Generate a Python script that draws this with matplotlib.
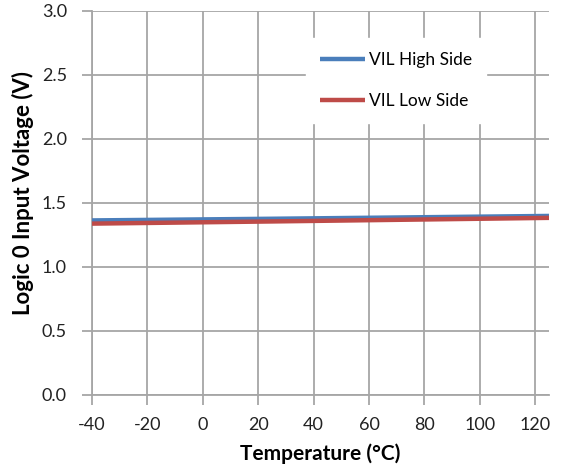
import matplotlib.pyplot as plt

# Logic-0 input threshold vs. temperature
temperature_c = [-40, 25, 125]
vil_high_side = [1.360, 1.373, 1.395]
vil_low_side = [1.335, 1.352, 1.380]

x_ticks = [-40, -20, 0, 20, 40, 60, 80, 100, 120]
y_ticks = [0.0, 0.5, 1.0, 1.5, 2.0, 2.5, 3.0]

plt.rcParams["font.family"] = ["Lato", "DejaVu Sans"]
plt.rcParams["axes.unicode_minus"] = False

fig = plt.figure(figsize=(5.62, 4.70), dpi=100)
left, right, top, bottom = 92, 549, 10.5, 394.5
ax = fig.add_axes([left / 562, 1 - bottom / 470, (right - left) / 562, (bottom - top) / 470])

grid_color = "#a6a6a6"
ax.plot(temperature_c, vil_high_side, color="#4a7ebb", lw=3.2,
        label="VIL High Side", solid_capstyle="butt", zorder=3)
ax.plot(temperature_c, vil_low_side, color="#be4b48", lw=3.2,
        label="VIL Low Side", solid_capstyle="butt", zorder=4)

ax.set_xlim(-40, 125)
ax.set_ylim(0, 3.0)
ax.set_xticks(x_ticks)
ax.set_yticks(y_ticks)
ax.set_yticklabels([f"{v:.1f}" for v in y_ticks])
ax.grid(True, color=grid_color, lw=1.3)
ax.set_axisbelow(True)

for side in ("top", "right"):
    ax.spines[side].set_visible(False)
for side in ("left", "bottom"):
    ax.spines[side].set_color(grid_color)
    ax.spines[side].set_linewidth(1.3)

ax.tick_params(axis="both", direction="out", length=7, width=1.3,
               color=grid_color, labelsize=13, labelcolor="#222222")
ax.tick_params(axis="x", pad=9)
ax.tick_params(axis="y", pad=11)

ax.set_xlabel("Temperature (°C)", fontsize=15, fontweight="bold", labelpad=8)
ax.set_ylabel("Logic 0 Input Voltage (V)", fontsize=16, fontweight="bold")
ax.yaxis.set_label_coords(-0.128, 0.525)

leg = ax.legend(loc="upper left", bbox_to_anchor=(0.45, 0.95), frameon=True,
                fontsize=12.5, handlelength=2.6, handletextpad=0.2,
                labelspacing=1.45, borderpad=0.8)
leg.get_frame().set_edgecolor("white")
leg.get_frame().set_facecolor("white")
leg.get_frame().set_alpha(1.0)

fig.savefig("out.png", dpi=100)
